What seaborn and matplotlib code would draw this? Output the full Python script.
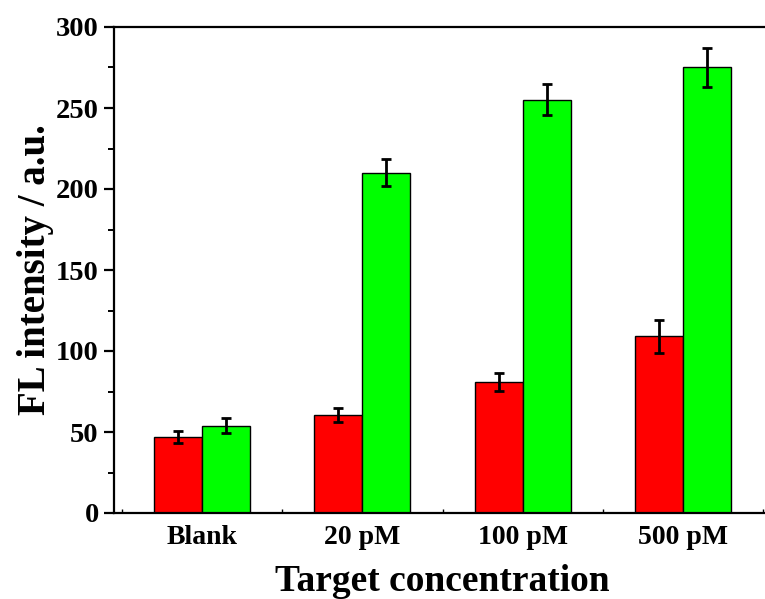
import matplotlib
matplotlib.use("Agg")
import matplotlib.pyplot as plt
import seaborn as sns
import pandas as pd
import numpy as np
from matplotlib.ticker import MultipleLocator, FixedLocator

categories = ["Blank", "20 pM", "100 pM", "500 pM"]
series = ["S1", "S2"]
red_values = [47, 60.5, 81, 109]
green_values = [54, 210, 255, 275]
red_err = [3.7, 4.6, 5.5, 10]
green_err = [4.6, 8.3, 9.6, 12.3]

sns.set_style("white")
plt.rcParams["font.family"] = ["Liberation Serif", "DejaVu Serif"]
plt.rcParams["font.weight"] = "bold"
plt.rcParams["text.color"] = "black"
plt.rcParams["axes.labelcolor"] = "black"
plt.rcParams["xtick.color"] = "black"
plt.rcParams["ytick.color"] = "black"

df = pd.DataFrame({
    "cat": categories * 2,
    "series": [series[0]] * 4 + [series[1]] * 4,
    "value": red_values + green_values,
})

fig = plt.figure(figsize=(7.65, 5.99), dpi=100)
ax = fig.add_axes([114 / 765, 1 - 513 / 599, (771 - 114) / 765, (513 - 27) / 599])

sns.barplot(data=df, x="cat", y="value", hue="series", order=categories,
            hue_order=series, palette=["#ff0000", "#00ff00"], width=0.6,
            errorbar=None, edgecolor="black", linewidth=1.0, saturation=1,
            legend=False, ax=ax)

errs = red_err + green_err
vals = red_values + green_values
bars = [p for p in ax.patches if p.get_height() > 0]
bars = sorted(bars, key=lambda p: (p.get_facecolor()[1] > 0.5, p.get_x()))
for p, v, e in zip(bars, vals, errs):
    ax.errorbar(p.get_x() + p.get_width() / 2, v, yerr=e, color="black",
                capsize=3.8, elinewidth=2, capthick=2, fmt="none", zorder=5)

ax.set_xlim(-0.55, 3.55)
ax.set_ylim(0, 300)
ax.yaxis.set_major_locator(MultipleLocator(50))
ax.yaxis.set_minor_locator(MultipleLocator(25))
ax.xaxis.set_minor_locator(FixedLocator([-0.5, 0.5, 1.5, 2.5, 3.5]))

for s in ["left", "bottom", "top"]:
    ax.spines[s].set_linewidth(1.6)
    ax.spines[s].set_color("black")
ax.spines["right"].set_visible(False)

ax.tick_params(axis="y", which="major", direction="out", length=7, width=1.6,
               labelsize=20.5, left=True, pad=4, colors="black")
ax.tick_params(axis="y", which="minor", direction="out", length=4, width=1.4, left=True)
ax.tick_params(axis="x", which="major", length=0, labelsize=20, pad=9, colors="black")
ax.tick_params(axis="x", which="minor", direction="in", length=3, width=1, bottom=True)
for lab in ax.get_xticklabels() + ax.get_yticklabels():
    lab.set_fontweight("bold")
    lab.set_color("black")

ax.set_xlabel("Target concentration", fontsize=27, fontweight="bold", labelpad=10, color="black")
ax.set_ylabel("FL intensity / a.u.", fontsize=28, fontweight="bold", labelpad=1, color="black")

fig.savefig("out.png", dpi=100)
